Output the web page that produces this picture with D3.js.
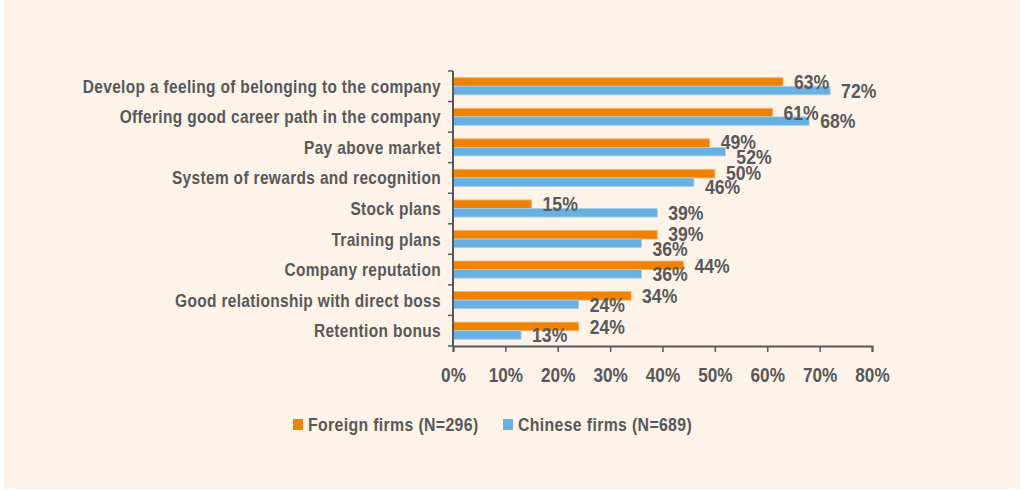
<!DOCTYPE html>
<html>
<head>
<meta charset="utf-8">
<script src="https://cdn.jsdelivr.net/npm/d3@7"></script>
<style>
  body { margin: 0; background: #fff; }
  text { font-family: "Liberation Sans", Arial, sans-serif; font-weight: bold; fill: #58585a; }
</style>
</head>
<body>
<div id="container"></div>
<script>
/* DATA */
const categories = [
  "Develop a feeling of belonging to the company",
  "Offering good career path in the company",
  "Pay above market",
  "System of rewards and recognition",
  "Stock plans",
  "Training plans",
  "Company reputation",
  "Good relationship with direct boss",
  "Retention bonus"
];
const foreignValues = [63, 61, 49, 50, 15, 39, 44, 34, 24];
const chineseValues = [72, 68, 52, 46, 39, 36, 36, 24, 13];
const seriesNames = ["Foreign firms (N=296)", "Chinese firms (N=689)"];
const xTicks = [0, 10, 20, 30, 40, 50, 60, 70, 80];

/* CONSTANTS */
const width = 1021, height = 490;
const colors = ["#ef8200", "#67b0e2"];
const strokes = ["#f6b468", "#a9d2ef"];
const textColor = "#58585a";
const narrow = 0.86; // horizontal squeeze to imitate a condensed face

const svg = d3.select("#container")
  .append("svg")
  .attr("width", width)
  .attr("height", height);

// background panel
svg.append("rect")
  .attr("x", 4).attr("y", 0)
  .attr("width", width - 5).attr("height", height - 1)
  .attr("fill", "#fdf3e8");

// SCALES
const x = d3.scaleLinear().domain([0, 80]).range([453, 872]);
const y = d3.scaleBand().domain(categories).range([71, 346])
  .paddingInner(0.44).paddingOuter(0.22);
const ySub = d3.scaleBand().domain([0, 1]).range([0, y.bandwidth()]);

const rows = categories.map((c, i) => ({ cat: c, vals: [foreignValues[i], chineseValues[i]] }));

// BARS
const groups = svg.selectAll("g.row")
  .data(rows)
  .join("g")
  .attr("class", "row")
  .attr("transform", d => `translate(0,${y(d.cat)})`);

groups.selectAll("rect")
  .data(d => d.vals.map((v, s) => ({ v, s })))
  .join("rect")
  .attr("x", x(0))
  .attr("y", d => ySub(d.s))
  .attr("width", d => x(d.v) - x(0))
  .attr("height", ySub.bandwidth())
  .attr("fill", d => colors[d.s])
  .attr("stroke", d => strokes[d.s])
  .attr("stroke-width", 0.8);

// value labels, nudged apart when the two bar ends are close
groups.selectAll("text")
  .data(d => {
    const close = Math.abs(x(d.vals[0]) - x(d.vals[1])) < 30;
    return d.vals.map((v, s) => ({ v, s, nudge: close ? (s === 0 ? -1 : 5) : 0 }));
  })
  .join("text")
  .attr("transform", d => `translate(${x(d.v) + 11},${ySub(d.s) + ySub.bandwidth() / 2 + d.nudge}) scale(0.88,1)`)
  .attr("dy", "0.36em")
  .attr("font-size", 20)
  .text(d => d.v + "%");

// Y AXIS (category labels + boundary ticks)
svg.append("line")
  .attr("x1", x(0)).attr("x2", x(0))
  .attr("y1", 71).attr("y2", 346)
  .attr("stroke", textColor).attr("stroke-width", 2);

const step = y.step();
svg.selectAll("line.ytick")
  .data(d3.range(categories.length + 1))
  .join("line")
  .attr("class", "ytick")
  .attr("x1", x(0) - 5).attr("x2", x(0))
  .attr("y1", i => 71 + i * step).attr("y2", i => 71 + i * step)
  .attr("stroke", textColor).attr("stroke-width", 1.5);

svg.selectAll("text.cat")
  .data(categories)
  .join("text")
  .attr("class", "cat")
  .attr("transform", d => `translate(441,${y(d) + y.bandwidth() / 2}) scale(${narrow},1)`)
  .attr("dy", "0.36em")
  .attr("text-anchor", "end")
  .attr("font-size", 18)
  .attr("letter-spacing", 0.4)
  .text(d => d);

// X AXIS
const xAxis = svg.append("g")
  .attr("transform", "translate(0,346)")
  .call(d3.axisBottom(x).tickValues(xTicks).tickSize(6).tickPadding(16).tickFormat(d => d + "%"));
xAxis.attr("font-family", null);
xAxis.select(".domain").attr("stroke", textColor).attr("stroke-width", 2);
xAxis.selectAll(".tick line").attr("stroke", textColor).attr("stroke-width", 1.5);
xAxis.selectAll(".tick text")
  .attr("font-size", 20)
  .attr("fill", textColor)
  .attr("transform", "scale(0.86,1)");

// LEGEND
const legendX = [293, 503];
const legend = svg.selectAll("g.legend")
  .data(seriesNames)
  .join("g")
  .attr("class", "legend")
  .attr("transform", (d, i) => `translate(${legendX[i]},419)`);
legend.append("rect")
  .attr("width", 10).attr("height", 11)
  .attr("fill", (d, i) => colors[i]);
legend.append("text")
  .attr("transform", "translate(15,6) scale(0.88,1)")
  .attr("dy", "0.36em")
  .attr("font-size", 18)
  .attr("letter-spacing", 0.4)
  .text(d => d);
</script>
</body>
</html>
